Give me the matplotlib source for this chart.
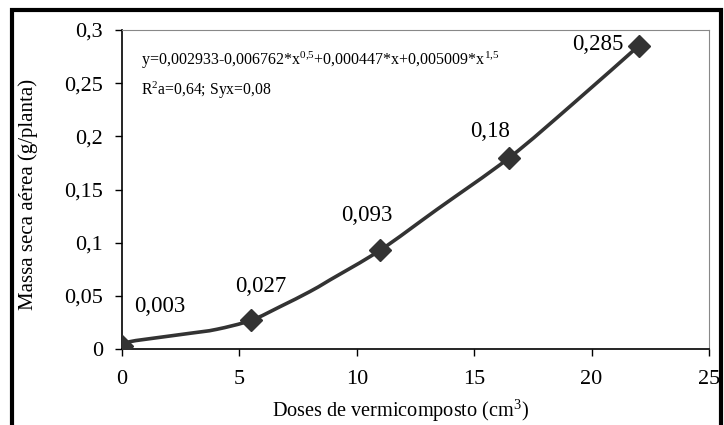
import numpy as np
import matplotlib.pyplot as plt
from matplotlib.patches import Rectangle, PathPatch
from matplotlib.path import Path

plt.rcParams['font.family'] = ['Liberation Serif', 'DejaVu Serif']
plt.rcParams['mathtext.fontset'] = 'custom'
plt.rcParams['mathtext.rm'] = 'Liberation Serif'
plt.rcParams['mathtext.it'] = 'Liberation Serif'

# observed points
doses = [0, 5.5, 11, 16.5, 22]
massa = [0.003, 0.027, 0.093, 0.18, 0.285]
labels = ['0,003', '0,027', '0,093', '0,18', '0,285']

# fitted curve
curve_x = [0, 0.34, 1.62, 2.9, 4.03, 5.5, 6.73, 8.0, 8.86, 11, 13.4, 16.5, 19.2, 22]
curve_y = [0.003, 0.0069, 0.011, 0.0148, 0.0185, 0.027, 0.0398, 0.054, 0.065,
           0.093, 0.131, 0.18, 0.2305, 0.285]

xticks = [0, 5, 10, 15, 20, 25]
yticks = [0, 0.05, 0.1, 0.15, 0.2, 0.25, 0.3]
yticklabels = ['0', '0,05', '0,1', '0,15', '0,2', '0,25', '0,3']

# label offsets in points (dx, dy)
offs = [(27, 28), (7, 24), (-10, 25), (-14, 19), (-29, 1)]

fig = plt.figure(figsize=(7.24, 4.25), dpi=100)
ax = fig.add_axes([0.1685, 0.1788, 0.9793 - 0.1685, 0.9294 - 0.1788])

# smooth line through the curve points (Catmull-Rom as cubic Bezier)
pts = np.column_stack([curve_x, curve_y])
ext = np.vstack([pts[0], pts, pts[-1]])
verts = [tuple(pts[0])]
codes = [Path.MOVETO]
for i in range(1, len(ext) - 2):
    p0, p1, p2, p3 = ext[i - 1], ext[i], ext[i + 1], ext[i + 2]
    c1 = p1 + (p2 - p0) / 6
    c2 = p2 - (p3 - p1) / 6
    verts += [tuple(c1), tuple(c2), tuple(p2)]
    codes += [Path.CURVE4] * 3
ax.add_patch(PathPatch(Path(verts, codes), facecolor='none', edgecolor='#333333',
                       lw=2.6, capstyle='round', zorder=2))

ax.plot(doses, massa, 'D', color='#333333', ms=11, zorder=3)

for xi, yi, lab, (dx, dy) in zip(doses, massa, labels, offs):
    ax.annotate(lab, (xi, yi), xytext=(dx, dy), textcoords='offset points',
                ha='center', va='center', fontsize=16.5)

ax.set_xlim(0, 25)
ax.set_ylim(0, 0.3)
ax.set_xticks(xticks)
ax.set_yticks(yticks)
ax.set_yticklabels(yticklabels)
ax.tick_params(labelsize=16, length=5, width=1, direction='out')
ax.tick_params(axis='x', pad=10)
ax.tick_params(axis='y', pad=8.5)

for s in ['top', 'right']:
    ax.spines[s].set_color('#888888')
for s in ['left', 'bottom']:
    ax.spines[s].set_color('black')
    ax.spines[s].set_linewidth(1.2)
ax.patch.set_alpha(0)

ax.set_xlabel('Doses de vermicomposto (cm$^3$)', fontsize=14.6)
ax.xaxis.set_label_coords(0.474, -0.152)
ax.set_ylabel('Massa seca aérea (g/planta)', fontsize=15)
ax.yaxis.set_label_coords(-0.143, 0.483)

ax.text(0.032, 0.905, 'y=0,002933-0,006762*x$^{0{,}5}$+0,000447*x+0,005009*x$^{1{,}5}$',
        transform=ax.transAxes, fontsize=11.5, va='center')
ax.text(0.032, 0.81, 'R$^2$a=0,64; Syx=0,08',
        transform=ax.transAxes, fontsize=11.3, va='center')

# outer frame
fig.patches.append(Rectangle((12 / 724, -0.1), 709 / 724, 1.1 - 10 / 425,
                             transform=fig.transFigure, fill=False,
                             lw=3, edgecolor='black'))

fig.savefig('out.png', dpi=100)
